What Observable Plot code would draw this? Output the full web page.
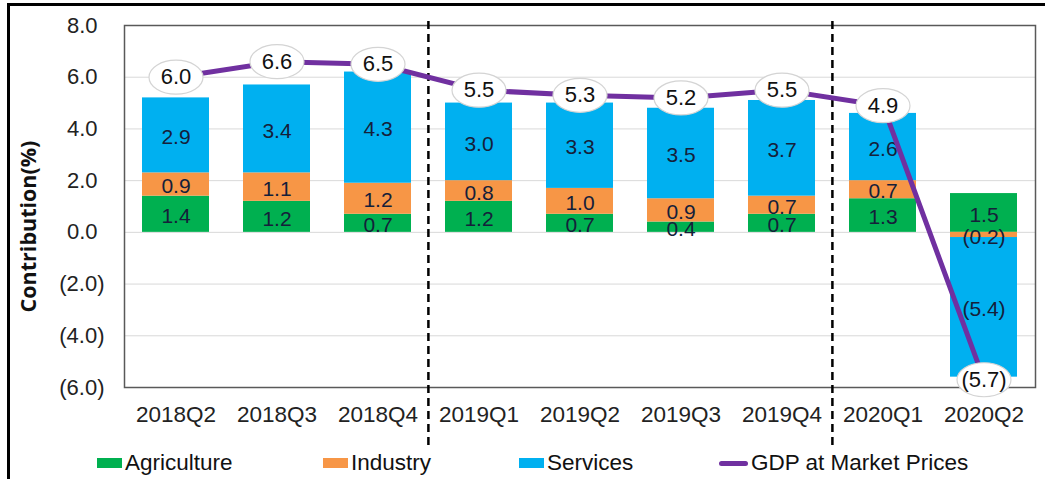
<!DOCTYPE html>
<html>
<head>
<meta charset="utf-8">
<script src="https://cdn.jsdelivr.net/npm/d3@7"></script>
<script src="https://cdn.jsdelivr.net/npm/@observablehq/plot@0.6"></script>
<style>
  html, body { margin: 0; padding: 0; background: #fff; }
  #wrap { position: relative; width: 1045px; height: 479px; overflow: hidden; }
  #border { position: absolute; left: 7px; top: 3px; width: 1100px; height: 600px;
            border-left: 3px solid #000; border-top: 3px solid #000; box-sizing: border-box; }
  #chart { position: absolute; left: 0; top: 0; }
  #legend { position: absolute; left: 0; top: 450px; width: 1045px; height: 26px;
            font-family: "Liberation Sans", Arial, sans-serif; font-size: 22.5px; color: #111; }
  .item { position: absolute; top: 0; height: 26px; display: flex; align-items: center; white-space: nowrap; }
  .sw { display: inline-block; width: 25px; height: 10px; margin-right: 3px; }
  .ln { display: inline-block; width: 29px; height: 5px; border-radius: 3px; margin-right: 3px; }
</style>
</head>
<body>
<div id="wrap">
  <div id="border"></div>
  <div id="chart"></div>
  <div id="legend"></div>
</div>
<script>
const quarters = ["2018Q2","2018Q3","2018Q4","2019Q1","2019Q2","2019Q3","2019Q4","2020Q1","2020Q2"];
const agriculture = [1.4, 1.2, 0.7, 1.2, 0.7, 0.4, 0.7, 1.3, 1.5];
const industry    = [0.9, 1.1, 1.2, 0.8, 1.0, 0.9, 0.7, 0.7, -0.2];
const services    = [2.9, 3.4, 4.3, 3.0, 3.3, 3.5, 3.7, 2.6, -5.4];
const gdp         = [6.0, 6.6, 6.5, 5.5, 5.3, 5.2, 5.5, 4.9, -5.7];
const sectors = ["Agriculture", "Industry", "Services"];
const sectorColors = ["#00B050", "#F79646", "#00B0F0"];
const gdpName = "GDP at Market Prices";
const gdpColor = "#7030A0";
const yTicks = [-6, -4, -2, 0, 2, 4, 6, 8];
const dividers = ["2019Q1", "2020Q1"];
const yTitle = "Contribution(%)";

const fmt = v => v < 0 ? `(${(-v).toFixed(1)})` : v.toFixed(1);

const seriesBySector = [agriculture, industry, services];
const rows = [];
quarters.forEach((q, i) => {
  sectors.forEach((s, j) => rows.push({quarter: q, sector: s, value: seriesBySector[j][i]}));
});
const gdpRows = quarters.map((q, i) => ({quarter: q, value: gdp[i]}));

const ellipse = {
  draw(ctx) {
    const rx = 27, ry = 17, k = 0.5523;
    ctx.moveTo(rx, 0);
    ctx.bezierCurveTo(rx, ry * k, rx * k, ry, 0, ry);
    ctx.bezierCurveTo(-rx * k, ry, -rx, ry * k, -rx, 0);
    ctx.bezierCurveTo(-rx, -ry * k, -rx * k, -ry, 0, -ry);
    ctx.bezierCurveTo(rx * k, -ry, rx, -ry * k, rx, 0);
    ctx.closePath();
  }
};

const chart = Plot.plot({
  width: 1045,
  height: 479,
  marginTop: 25,
  marginBottom: 92,
  marginLeft: 124,
  marginRight: 10,
  style: {fontFamily: "'Liberation Sans', Arial, sans-serif", fontSize: "22px", color: "#222", background: "transparent", overflow: "visible"},
  x: {domain: quarters, paddingInner: 0.34, paddingOuter: 0.17, label: null},
  y: {domain: [-6, 8], label: null},
  color: {domain: sectors, range: sectorColors},
  marks: [
    Plot.gridY(yTicks, {stroke: "#d9d9d9", strokeOpacity: 1, strokeWidth: 1}),
    Plot.barY(rows, Plot.stackY({x: "quarter", y: "value", fill: "sector"})),
    Plot.text(rows, Plot.stackY({x: "quarter", y: "value", z: "sector", text: d => fmt(d.value), fill: "#15203a", fontSize: 21, dy: 2})),
    Plot.frame({stroke: "#595959", strokeWidth: 1.5}),
    Plot.ruleX(dividers, {x: d => d, dx: -50.6, stroke: "#000", strokeWidth: 2.5, strokeDasharray: "8,5", insetTop: -4, insetBottom: -58}),
    Plot.line(gdpRows, {x: "quarter", y: "value", stroke: gdpColor, strokeWidth: 5, strokeLinejoin: "round"}),
    Plot.dot(gdpRows, {x: "quarter", y: "value", symbol: ellipse, r: 10, fill: "#fff", stroke: "#d4d4d4", strokeWidth: 1.2}),
    Plot.text(gdpRows, {x: "quarter", y: "value", text: d => fmt(d.value), fill: "#111", fontSize: 22}),
    Plot.axisY(yTicks.filter(d => d >= 0), {tickSize: 0, tickPadding: 27, tickFormat: fmt, fontSize: 22, fill: "#222", label: null}),
    Plot.axisY(yTicks.filter(d => d < 0), {tickSize: 0, tickPadding: 20, tickFormat: fmt, fontSize: 22, fill: "#222", label: null}),
    Plot.axisX({tickSize: 0, tickPadding: 19, fontSize: 22.5, fill: "#222", label: null}),
    Plot.text([yTitle], {frameAnchor: "left", rotate: -90, dx: -95, dy: 20, textAnchor: "middle", text: d => d, fontFamily: "'Open Sans', sans-serif", fontWeight: "bold", fontSize: 21.5, fill: "#111"})
  ]
});
document.getElementById("chart").appendChild(chart);

const legend = document.getElementById("legend");
const legendItems = [
  {label: sectors[0], color: sectorColors[0], type: "sw", left: 97},
  {label: sectors[1], color: sectorColors[1], type: "sw", left: 323},
  {label: sectors[2], color: sectorColors[2], type: "sw", left: 519},
  {label: gdpName, color: gdpColor, type: "ln", left: 719}
];
legendItems.forEach(it => {
  const div = document.createElement("div");
  div.className = "item";
  div.style.left = it.left + "px";
  const sw = document.createElement("span");
  sw.className = it.type;
  sw.style.background = it.color;
  div.appendChild(sw);
  div.appendChild(document.createTextNode(it.label));
  legend.appendChild(div);
});
</script>
</body>
</html>
